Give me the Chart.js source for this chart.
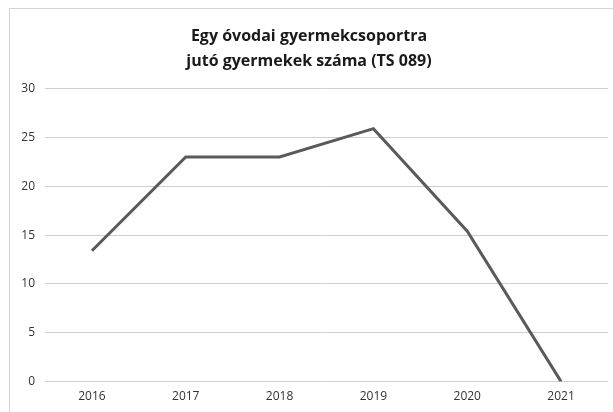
<!DOCTYPE html>
<html>
<head>
<meta charset="utf-8">
<script src="https://cdn.jsdelivr.net/npm/chart.js@4.4.0/dist/chart.umd.min.js"></script>
<style>
  html, body { margin: 0; padding: 0; background: #fff; }
  #wrap { position: relative; width: 613px; height: 412px; overflow: hidden; }
  #frame { position: absolute; left: 9px; top: 8px; width: 620px; height: 420px; border: 1px solid #d4d4d4; box-sizing: border-box; }
  canvas { position: absolute; left: 0; top: 0; }
</style>
</head>
<body>
<div id="wrap">
  <div id="frame"></div>
  <canvas id="graph" width="613" height="412"></canvas>
</div>
<script>
// ---- data ----
var years = ["2016", "2017", "2018", "2019", "2020", "2021"];
var children = [13.4, 23, 23, 25.9, 15.4, 0];
var yTicks = [0, 5, 10, 15, 20, 25, 30];

var titleLines = ["Egy óvodai gyermekcsoportra", "jutó gyermekek száma (TS 089)"];

const ctx = document.getElementById("graph");
const myChart = new Chart(ctx, {
  type: "line",
  data: {
    labels: years,
    datasets: [
      {
        label: "TS 089",
        data: children,
        borderColor: "#5a5a5a",
        borderWidth: 3,
        pointRadius: 0,
        tension: 0,
        fill: false,
      },
    ],
  },
  options: {
    responsive: false,
    animation: false,
    layout: { padding: { left: 10, right: 5, top: 24, bottom: 0 } },
    plugins: {
      legend: { display: false },
      tooltip: { enabled: false },
      title: {
        display: true,
        text: titleLines,
        color: "#1a1a1a",
        font: { family: "'Open Sans', sans-serif", size: 16, weight: "bold", lineHeight: 1.55 },
        padding: { top: 0, bottom: 15 },
      },
    },
    scales: {
      x: {
        offset: true,
        grid: { display: false, drawTicks: false },
        border: { display: false },
        ticks: { color: "#333", font: { family: "'Open Sans', sans-serif", size: 12 }, padding: 8 },
      },
      y: {
        min: 0,
        max: 30,
        afterBuildTicks: function (scale) {
          scale.ticks = yTicks.map(function (v) { return { value: v }; });
        },
        afterFit: function (scale) { scale.width = 35; },
        grid: { color: "#cfcfcf", lineWidth: 1, drawTicks: false },
        border: { display: false },
        ticks: { color: "#333", font: { family: "'Open Sans', sans-serif", size: 12 }, padding: 10 },
      },
    },
  },
});
</script>
</body>
</html>
